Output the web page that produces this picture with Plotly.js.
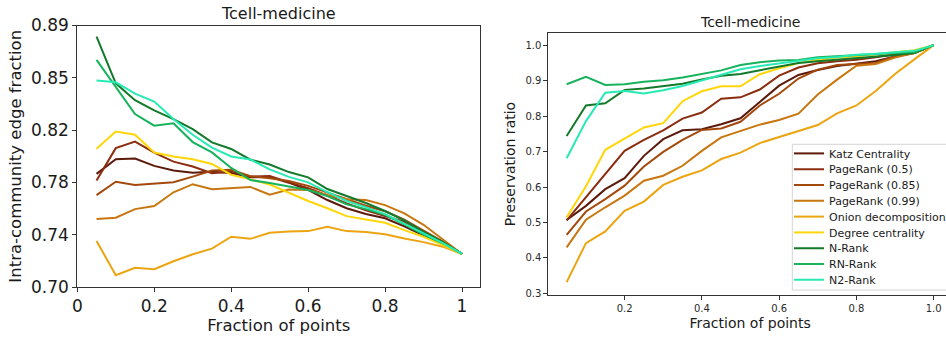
<!DOCTYPE html>
<html>
<head>
<meta charset="utf-8">
<script src="https://cdn.plot.ly/plotly-3.0.1.min.js"></script>
<style>
  html, body { margin: 0; padding: 0; overflow: hidden; background: #fff; }
  #chart { width: 952px; height: 341px; }
</style>
</head>
<body>
<div id="chart"></div>
<script>
// Fraction of points kept (x values shared by both panels)
const fractions = [0.05, 0.10, 0.15, 0.20, 0.25, 0.30, 0.35, 0.40, 0.45, 0.50,
                   0.55, 0.60, 0.65, 0.70, 0.75, 0.80, 0.85, 0.90, 0.95, 1.00];

const methods = ['Katz Centrality', 'PageRank (0.5)', 'PageRank (0.85)', 'PageRank (0.99)',
                 'Onion decomposition', 'Degree centrality', 'N-Rank', 'RN-Rank', 'N2-Rank'];

const lineColors = ['#5c1a0b', '#8b2d0f', '#a4490c', '#c8760f',
                    '#eca411', '#ffd60a', '#137a2b', '#16b25c', '#28eab4'];

// Left panel: intra-community edge fraction
const katzEdge   = [0.7822, 0.7929, 0.7933, 0.7880, 0.7846, 0.7831, 0.7838, 0.7828, 0.7797, 0.7800,
                    0.7758, 0.7705, 0.7632, 0.7572, 0.7530, 0.7499, 0.7440, 0.7378, 0.7310, 0.7240];
const pr05Edge   = [0.7773, 0.8009, 0.8057, 0.7977, 0.7911, 0.7875, 0.7827, 0.7840, 0.7802, 0.7807,
                    0.7762, 0.7717, 0.7665, 0.7608, 0.7558, 0.7515, 0.7474, 0.7400, 0.7327, 0.7240];
const pr085Edge  = [0.7668, 0.7765, 0.7741, 0.7753, 0.7761, 0.7802, 0.7846, 0.7851, 0.7805, 0.7790,
                    0.7770, 0.7735, 0.7685, 0.7635, 0.7590, 0.7550, 0.7490, 0.7410, 0.7330, 0.7240];
const pr099Edge  = [0.7494, 0.7503, 0.7566, 0.7588, 0.7688, 0.7747, 0.7710, 0.7720, 0.7727, 0.7670,
                    0.7708, 0.7705, 0.7668, 0.7637, 0.7632, 0.7595, 0.7535, 0.7452, 0.7345, 0.7240];
const onionEdge  = [0.7335, 0.7085, 0.7139, 0.7129, 0.7187, 0.7238, 0.7279, 0.7365, 0.7350, 0.7394,
                    0.7403, 0.7406, 0.7438, 0.7406, 0.7400, 0.7384, 0.7353, 0.7326, 0.7293, 0.7240];
const degreeEdge = [0.8004, 0.8130, 0.8106, 0.7977, 0.7948, 0.7928, 0.7894, 0.7816, 0.7782, 0.7745,
                    0.7685, 0.7625, 0.7572, 0.7515, 0.7491, 0.7467, 0.7413, 0.7365, 0.7305, 0.7240];
const nRankEdge  = [0.8820, 0.8480, 0.8357, 0.8283, 0.8220, 0.8147, 0.8051, 0.8003, 0.7925, 0.7890,
                    0.7835, 0.7797, 0.7712, 0.7660, 0.7610, 0.7552, 0.7484, 0.7401, 0.7328, 0.7240];
const rnRankEdge = [0.8650, 0.8450, 0.8257, 0.8172, 0.8190, 0.8053, 0.7978, 0.7865, 0.7777, 0.7755,
                    0.7730, 0.7705, 0.7660, 0.7600, 0.7566, 0.7525, 0.7455, 0.7380, 0.7318, 0.7240];
const n2RankEdge = [0.8500, 0.8487, 0.8405, 0.8347, 0.8220, 0.8106, 0.8013, 0.7948, 0.7927, 0.7855,
                    0.7800, 0.7760, 0.7690, 0.7625, 0.7580, 0.7530, 0.7460, 0.7390, 0.7318, 0.7240];

// Right panel: preservation ratio
const katzPres   = [0.507, 0.547, 0.594, 0.625, 0.688, 0.735, 0.760, 0.763, 0.777, 0.794,
                    0.840, 0.886, 0.916, 0.930, 0.941, 0.948, 0.955, 0.968, 0.978, 1.000];
const pr05Pres   = [0.506, 0.571, 0.635, 0.702, 0.733, 0.760, 0.793, 0.810, 0.849, 0.853,
                    0.875, 0.914, 0.937, 0.949, 0.955, 0.959, 0.966, 0.974, 0.982, 1.000];
const pr085Pres  = [0.465, 0.531, 0.566, 0.604, 0.658, 0.699, 0.733, 0.761, 0.765, 0.784,
                    0.830, 0.863, 0.906, 0.931, 0.944, 0.946, 0.950, 0.969, 0.978, 1.000];
const pr099Pres  = [0.430, 0.508, 0.543, 0.576, 0.618, 0.632, 0.660, 0.702, 0.740, 0.757,
                    0.776, 0.789, 0.807, 0.861, 0.903, 0.942, 0.947, 0.965, 0.978, 1.000];
const onionPres  = [0.332, 0.442, 0.475, 0.533, 0.559, 0.606, 0.629, 0.647, 0.679, 0.697,
                    0.724, 0.741, 0.759, 0.775, 0.808, 0.830, 0.871, 0.919, 0.960, 1.000];
const degreePres = [0.515, 0.602, 0.705, 0.737, 0.768, 0.780, 0.842, 0.870, 0.884, 0.884,
                    0.918, 0.935, 0.950, 0.958, 0.965, 0.969, 0.975, 0.980, 0.986, 1.000];
const nRankPres  = [0.744, 0.830, 0.836, 0.874, 0.878, 0.884, 0.891, 0.903, 0.914, 0.919,
                    0.929, 0.940, 0.950, 0.955, 0.959, 0.964, 0.967, 0.972, 0.978, 1.000];
const rnRankPres = [0.890, 0.911, 0.888, 0.890, 0.897, 0.901, 0.909, 0.918, 0.929, 0.944,
                    0.952, 0.957, 0.958, 0.966, 0.969, 0.972, 0.974, 0.978, 0.981, 1.000];
const n2RankPres = [0.681, 0.786, 0.866, 0.871, 0.864, 0.873, 0.885, 0.901, 0.918, 0.932,
                    0.941, 0.949, 0.955, 0.963, 0.967, 0.973, 0.976, 0.979, 0.984, 1.000];

// Tick labels
const edgeTickVals = [0.70, 0.738, 0.776, 0.814, 0.852, 0.89];
const edgeTickText = ['0.70', '0.74', '0.78', '0.82', '0.85', '0.89'];
const leftXTickVals = [0, 0.2, 0.4, 0.6, 0.8, 1];
const leftXTickText = ['0', '0.2', '0.4', '0.6', '0.8', '1'];
const rightXTickVals = [0.2, 0.4, 0.6, 0.8, 1.0];
const rightXTickText = ['0.2', '0.4', '0.6', '0.8', '1.0'];
const presTickVals = [0.3, 0.4, 0.5, 0.6, 0.7, 0.8, 0.9, 1.0];
const presTickText = ['0.3', '0.4', '0.5', '0.6', '0.7', '0.8', '0.9', '1.0'];

const panelTitle = 'Tcell-medicine';

const edgeSeries = [katzEdge, pr05Edge, pr085Edge, pr099Edge, onionEdge, degreeEdge, nRankEdge, rnRankEdge, n2RankEdge];
const presSeries = [katzPres, pr05Pres, pr085Pres, pr099Pres, onionPres, degreePres, nRankPres, rnRankPres, n2RankPres];

// Pixel helpers for the fixed-size canvas
const W = 952, H = 341;
const fx = p => p / W;
const fy = p => (H - p) / H;

const FONT = 'DejaVu Sans, Verdana, sans-serif';
const INK = '#1a1a1a';
const SPINE = '#333333';

const traces = [];
methods.forEach((name, i) => {
  traces.push({
    x: fractions, y: edgeSeries[i], type: 'scatter', mode: 'lines', name: name,
    line: { color: lineColors[i], width: 2 },
    xaxis: 'x', yaxis: 'y', showlegend: false, hoverinfo: 'skip'
  });
});
methods.forEach((name, i) => {
  traces.push({
    x: fractions, y: presSeries[i], type: 'scatter', mode: 'lines', name: name,
    line: { color: lineColors[i], width: 2 },
    xaxis: 'x2', yaxis: 'y2', showlegend: true,
    legend: i === 0 ? 'legend' : 'legend' + (i + 1), hoverinfo: 'skip'
  });
});

function axisBase(extra) {
  return Object.assign({
    showline: true, mirror: true, linecolor: SPINE, linewidth: 1,
    ticks: 'outside', ticklen: 4, tickwidth: 1, tickcolor: SPINE,
    showgrid: false, zeroline: false, tickmode: 'array',
    fixedrange: true
  }, extra);
}

const layout = {
  width: W, height: H, autosize: false,
  margin: { l: 0, r: 0, t: 0, b: 0, pad: 0 },
  paper_bgcolor: '#ffffff', plot_bgcolor: '#ffffff',
  font: { family: FONT, color: INK },
  xaxis: axisBase({
    domain: [fx(77.3), fx(480.3)], range: [0, 1.0475], anchor: 'y',
    tickvals: leftXTickVals, ticktext: leftXTickText,
    tickfont: { size: 17, color: INK },
    title: { text: 'Fraction of points', font: { size: 16.5, color: INK }, standoff: 4 }
  }),
  yaxis: axisBase({
    domain: [fy(287), fy(25.5)], range: [0.70, 0.89], anchor: 'x',
    tickvals: edgeTickVals, ticktext: edgeTickText,
    tickfont: { size: 17, color: INK },
    title: { text: 'Intra-community edge fraction', font: { size: 16.5, color: INK }, standoff: 5 }
  }),
  xaxis2: axisBase({
    domain: [fx(548.3), 1], range: [0.0025, 1.0475], anchor: 'y2',
    tickvals: rightXTickVals, ticktext: rightXTickText,
    tickfont: { size: 10, color: '#2a2a2a' },
    title: { text: 'Fraction of points', font: { size: 14, color: INK }, standoff: 5 }
  }),
  yaxis2: axisBase({
    domain: [fy(294.7), fy(33.3)], range: [0.2965, 1.0335], anchor: 'x2',
    tickvals: presTickVals, ticktext: presTickText,
    tickfont: { size: 10, color: '#2a2a2a' },
    title: { text: 'Preservation ratio', font: { size: 14, color: INK }, standoff: 6 }
  }),
  annotations: [
    { text: panelTitle, xref: 'paper', yref: 'paper', x: fx(278.8), y: fy(13.5),
      xanchor: 'center', yanchor: 'middle', showarrow: false, font: { size: 16, color: INK } },
    { text: panelTitle, xref: 'paper', yref: 'paper', x: fx(749.8), y: fy(22.2),
      xanchor: 'center', yanchor: 'middle', showarrow: false, font: { size: 14, color: INK } }
  ],
  shapes: [
    // legend frame
    { type: 'rect', xref: 'paper', yref: 'paper', layer: 'above',
      x0: fx(792.3), x1: fx(960), y0: fy(290), y1: fy(144.3),
      fillcolor: 'rgba(255,255,255,0.85)', line: { color: '#d4d4d4', width: 1 } }
  ]
};

// One legend row per method, stacked inside the frame
const rowTop = 153.4, rowStep = 15.8;
methods.forEach((name, i) => {
  const key = i === 0 ? 'legend' : 'legend' + (i + 1);
  layout[key] = {
    x: fx(789), y: fy(rowTop + i * rowStep), xanchor: 'left', yanchor: 'middle',
    bgcolor: 'rgba(0,0,0,0)', borderwidth: 0,
    font: { size: 11, color: INK, family: FONT },
    itemwidth: 30, tracegroupgap: 0
  };
});

Plotly.newPlot('chart', traces, layout, { staticPlot: true, displayModeBar: false });
</script>
</body>
</html>
